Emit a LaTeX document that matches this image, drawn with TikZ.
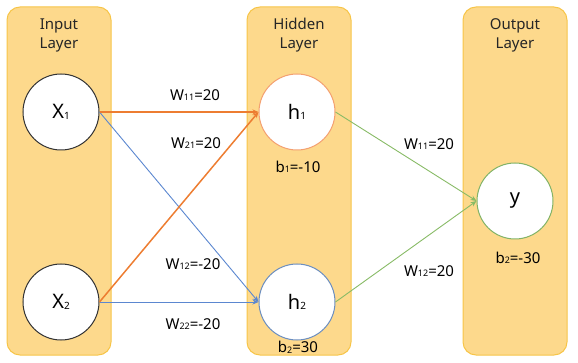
\documentclass[tikz,border=0pt]{standalone}
\usepackage{fontspec}
\setmainfont{Noto Sans}
\usetikzlibrary{arrows.meta}
\definecolor{layerfill}{HTML}{FDD98C}
\definecolor{layerdraw}{HTML}{F7C548}
\definecolor{eorange}{HTML}{ED7D31}
\definecolor{eblue}{HTML}{5B87D0}
\definecolor{egreen}{HTML}{88BB66}
\definecolor{corange}{HTML}{F4A070}
\definecolor{cblue}{HTML}{6C8EBF}
\definecolor{cgreen}{HTML}{82B366}
\newcommand\sbs[1]{\raisebox{-0.6pt}{\fontsize{9}{9}\selectfont #1}}
\newcommand\sbb[1]{\raisebox{-0.6pt}{\fontsize{10}{10}\selectfont #1}}
\tikzset{
  layerbox/.style={fill=layerfill, draw=layerdraw, line width=1pt, rounded corners=13pt},
  title/.style={align=center, font=\fontsize{15}{19}\selectfont, text=black!85},
  neuron/.style={circle, fill=white, minimum size=76pt, inner sep=0pt, line width=1pt, font=\fontsize{20}{20}\selectfont},
  lbl/.style={font=\fontsize{15}{15}\selectfont, inner sep=0pt},
  arr/.style={-{Stealth[length=6pt,width=5pt]}},
}
\begin{document}
\begin{tikzpicture}[x=1pt,y=-1pt]
\useasboundingbox (0,0) rectangle (578,363);
\draw[layerbox] (7,7) rectangle (111,355);
\draw[layerbox] (247,7) rectangle (351,355);
\draw[layerbox] (463,7) rectangle (567,355);
\node[title] (tin) at (59,35) {Input\\Layer};
\node[title] (thid) at (299,35) {Hidden\\Layer};
\node[title] (tout) at (515,35) {Output\\Layer};
\node[neuron, draw=black!80] (x1) at (61,112) {X\sbb{1}};
\node[neuron, draw=black!80] (x2) at (61,302) {X\sbb{2}};
\node[neuron, draw=corange] (h1) at (297,112) {h\sbb{1}};
\node[neuron, draw=cblue] (h2) at (297,302) {h\sbb{2}};
\node[neuron, draw=cgreen] (y) at (515,201) {y};
\draw[arr, eblue, line width=0.9pt] (x1.east) -- (h2.west);
\draw[arr, eblue, line width=0.9pt] (x2.east) -- (h2.west);
\draw[arr, eorange, line width=1.5pt] (x1.east) -- (h1.west);
\draw[arr, eorange, line width=1.5pt] (x2.east) -- (h1.west);
\draw[arr, egreen, line width=0.9pt] (h1.east) -- (y.west);
\draw[arr, egreen, line width=0.9pt] (h2.east) -- (y.west);
\node[lbl] (w11) at (195,95) {W\sbs{11}=20};
\node[lbl] (w21) at (196,143) {W\sbs{21}=20};
\node[lbl] (w12) at (193,264) {W\sbs{12}=-20};
\node[lbl] (w22) at (193,324) {W\sbs{22}=-20};
\node[lbl] (b1) at (298,167) {b\sbs{1}=-10};
\node[lbl] (b2h) at (298,347) {b\sbs{2}=30};
\node[lbl] (v11) at (429,144) {W\sbs{11}=20};
\node[lbl] (v12) at (429,271) {W\sbs{12}=20};
\node[lbl] (b2o) at (518,258) {b\sbs{2}=-30};
\end{tikzpicture}
\end{document}
